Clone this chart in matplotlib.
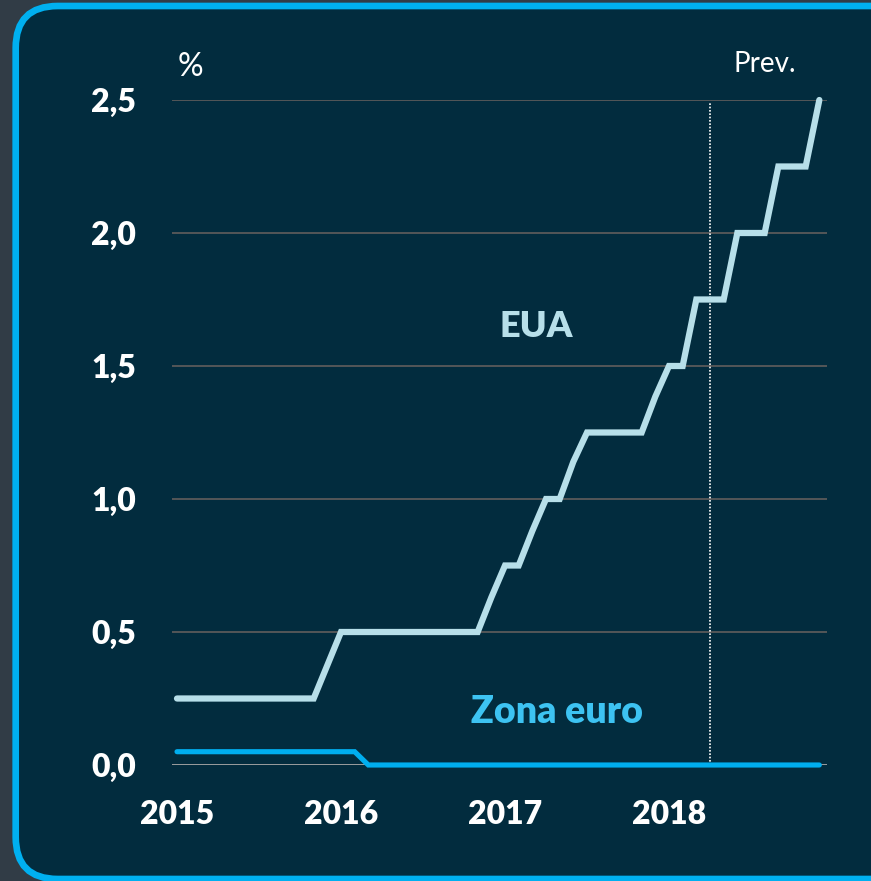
import matplotlib
matplotlib.use('Agg')
import matplotlib.pyplot as plt
from matplotlib.patches import FancyBboxPatch
import numpy as np

# monthly data, Jan 2015 .. Dec 2018
months = np.arange(48)
years = 2015 + months / 12.0

eua = [0.25, 0.25, 0.25, 0.25, 0.25, 0.25, 0.25, 0.25, 0.25, 0.25, 0.25, 0.375,
       0.5, 0.5, 0.5, 0.5, 0.5, 0.5, 0.5, 0.5, 0.5, 0.5, 0.5, 0.63,
       0.75, 0.75, 0.88, 1.0, 1.0, 1.14, 1.25, 1.25, 1.25, 1.25, 1.25, 1.385,
       1.5, 1.5, 1.75, 1.75, 1.75, 2.0, 2.0, 2.0, 2.25, 2.25, 2.25, 2.5]
zona_euro = [0.05] * 14 + [0.0] * 34

forecast_start = 2018.25
year_ticks = [2015, 2016, 2017, 2018]
y_ticks = [0.0, 0.5, 1.0, 1.5, 2.0, 2.5]
y_labels = ['0,0', '0,5', '1,0', '1,5', '2,0', '2,5']

BG = '#022c3e'
EUA_COLOR = '#b7dfe9'
ZE_COLOR = '#00aeef'
FONT = 'Lato'
WEIGHT = 'heavy'

fig = plt.figure(figsize=(8.71, 8.81), dpi=100, facecolor='#313c46')

panel = FancyBboxPatch((0.157, 0.02), 9.2, 8.73,
                       boxstyle='round,pad=0,rounding_size=0.42',
                       transform=fig.dpi_scale_trans,
                       facecolor=BG, edgecolor='#00b0f0', linewidth=4.8,
                       zorder=-5)
fig.patches.append(panel)

ax = fig.add_axes([172 / 871, 116 / 881, 655 / 871, 665 / 881])
ax.set_zorder(2)
ax.set_facecolor('none')

ax.set_xlim(2015 - 5 / 164, 2015 + 650 / 164)
ax.set_ylim(0, 2.5)

for y in y_ticks[1:]:
    ax.axhline(y, color='#5a5a5a', linewidth=1.3, zorder=1)
ax.axhline(0, color='#a6a6a6', linewidth=1.3, zorder=1)

ax.plot([forecast_start, forecast_start], [0, 2.49], color='white',
        linestyle=(0, (1, 1)), linewidth=1.2, zorder=2)

ax.plot(years, eua, color=EUA_COLOR, linewidth=4.5, solid_capstyle='round',
        solid_joinstyle='miter', zorder=3, clip_on=False)
ax.plot(years, zona_euro, color=ZE_COLOR, linewidth=3.7, solid_capstyle='round',
        solid_joinstyle='miter', zorder=3, clip_on=False)

for s in ax.spines.values():
    s.set_visible(False)

ax.set_yticks(y_ticks)
ax.set_yticklabels(y_labels, fontfamily=FONT, fontweight=WEIGHT, fontsize=23, color='white')
ax.set_xticks(year_ticks)
ax.set_xticklabels([str(y) for y in year_ticks], fontfamily=FONT, fontweight=WEIGHT,
                   fontsize=23, color='white')
ax.tick_params(axis='both', length=0)
ax.tick_params(axis='y', pad=26)
ax.tick_params(axis='x', pad=25)

ax.text(0.028, 1.05, '%', transform=ax.transAxes, fontfamily=FONT, fontsize=23,
        color='white', ha='center', va='center')
ax.text(0.905, 1.054, 'Prev.', transform=ax.transAxes, fontfamily=FONT, fontsize=20,
        color='white', ha='center', va='center')
ax.text(2017.19, 1.65, 'EUA', fontfamily=FONT, fontweight=WEIGHT, fontsize=26,
        color=EUA_COLOR, ha='center', va='center')
ax.text(2017.32, 0.2, 'Zona euro', fontfamily=FONT, fontweight=WEIGHT, fontsize=27,
        color='#3dc3f2', ha='center', va='center')

fig.savefig('out.png', dpi=100, facecolor=fig.get_facecolor())
